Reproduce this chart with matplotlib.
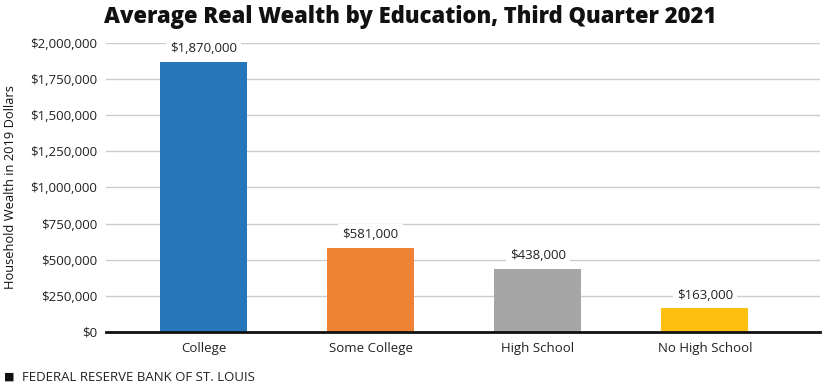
import matplotlib
matplotlib.use('Agg')
import matplotlib.pyplot as plt
from matplotlib.ticker import FuncFormatter

# data
categories = ["College", "Some College", "High School", "No High School"]
wealth = [1870000, 581000, 438000, 163000]
bar_colors = ["#2776B9", "#EE8235", "#A6A6A6", "#FDC011"]
yticks = [0, 250000, 500000, 750000, 1000000, 1250000, 1500000, 1750000, 2000000]

plt.rcParams['font.family'] = ['Open Sans', 'DejaVu Sans']

fig = plt.figure(figsize=(8.26, 3.86), dpi=100)
ax = fig.add_axes([0.128, 0.140, 0.865, 0.749])

x = list(range(len(categories)))
ax.bar(x, wealth, width=0.52, color=bar_colors, zorder=3)

for xi, v in zip(x, wealth):
    ax.text(xi, v + 45000, f"${v:,.0f}", ha='center', va='bottom', fontsize=9.5,
            color='#222222', zorder=4,
            bbox=dict(facecolor='white', edgecolor='none', pad=3))

ax.set_xlim(-0.585, 3.69)
ax.set_ylim(0, 2000000)
ax.set_yticks(yticks)
ax.yaxis.set_major_formatter(FuncFormatter(lambda v, p: f"${v:,.0f}"))
ax.set_xticks(x)
ax.set_xticklabels(categories)
ax.tick_params(axis='both', length=0, labelsize=9.5, colors='#222222')
ax.tick_params(axis='y', pad=6)
ax.tick_params(axis='x', pad=7)
ax.grid(axis='y', color='#CCCCCC', linewidth=1, zorder=0)
for s in ['top', 'right', 'left']:
    ax.spines[s].set_visible(False)
ax.spines['bottom'].set_linewidth(2)
ax.spines['bottom'].set_color('#111111')
ax.spines['bottom'].set_zorder(5)

ax.set_ylabel("Household Wealth in 2019 Dollars", fontsize=9.3, color='#111111')
ax.yaxis.set_label_coords(-0.124, 0.5)

fig.text(0.496, 0.957, "Average Real Wealth by Education, Third Quarter 2021",
         ha='center', va='center', fontsize=15.8, fontweight='heavy', color='#111111')

fig.text(0.005, 0.022, "\u25A0", ha='left', va='center', fontsize=8, color='#111111')
fig.text(0.027, 0.022, "FEDERAL RESERVE BANK OF ST. LOUIS", ha='left', va='center',
         fontsize=9.5, color='#222222')

fig.savefig("out.png", dpi=100)
